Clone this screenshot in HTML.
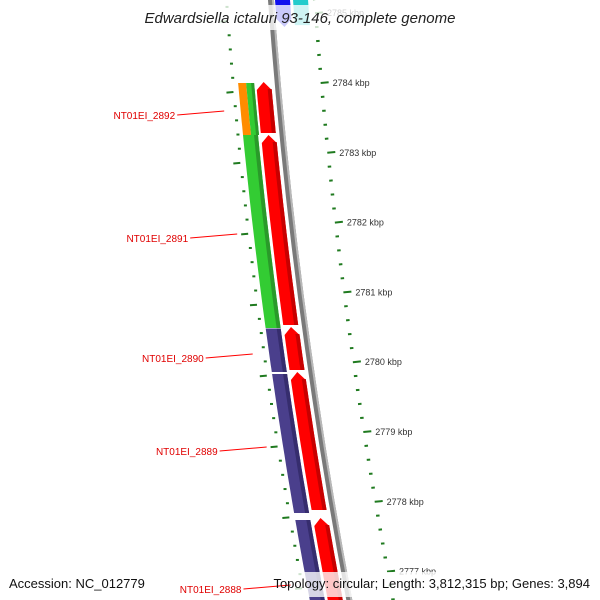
<!DOCTYPE html>
<html><head><meta charset="utf-8"><style>
html,body{margin:0;padding:0;background:#fff;width:600px;height:600px;overflow:hidden;}
svg{display:block;font-family:"Liberation Sans",sans-serif;overflow:hidden;}
</style></head><body>
<svg id="chart" width="600" height="600" viewBox="0 0 600 600" xmlns="http://www.w3.org/2000/svg">
<g id="ticks"></g>
<g id="feat"></g>
<rect x="133" y="5" width="334" height="25" fill="#fff" opacity="0.78"/>
<text x="300" y="23" text-anchor="middle" font-size="15" font-style="italic" fill="#222">Edwardsiella ictaluri 93-146, complete genome</text>
<rect x="4" y="572" width="592" height="25" fill="#fff" opacity="0.78"/>
<g id="labels"></g>
<text x="9" y="588" font-size="13" fill="#111">Accession: NC_012779</text>
<text x="590" y="588" text-anchor="end" font-size="13" fill="#111">Topology: circular; Length: 3,812,315 bp; Genes: 3,894</text>
</svg>
<script>
// ---- data ----
const majorKbp = [2785, 2784, 2783, 2782, 2781, 2780, 2779, 2778, 2777];
const tickLabels = ["2785 kbp","2784 kbp","2783 kbp","2782 kbp","2781 kbp","2780 kbp","2779 kbp","2778 kbp","2777 kbp"];
const fwdStart = [2784.071, 2783.317, 2780.586, 2779.946, 2777.869];
const fwdEnd   = [2783.346, 2780.615, 2779.974, 2777.983, 2776.700];
const innerStart = [2783.317, 2780.565, 2779.917, 2777.841];
const innerEnd   = [2780.572, 2779.946, 2777.940, 2776.700];
const innerType  = ["green", "purple", "purple", "purple"];
const splitStart = [2784.057];
const splitEnd   = [2783.317];
const geneNames = ["NT01EI_2892","NT01EI_2891","NT01EI_2890","NT01EI_2889","NT01EI_2888"];
const geneKbp   = [2783.659, 2781.909, 2780.202, 2778.879, 2776.916];
const topBlue = [2785.40, 2784.853];
const topCyan = [2785.40, 2784.880];

// ---- axis functions ----
const NS = "http://www.w3.org/2000/svg";
function X(a, y){ return a + 0.072*y + 0.0000975*y*y; }
function yOuter(k){ return 83 + (2784-k)*69.8; }
function yInner(k){ return 92 + (2784-k)*70.9; }
function yFeat(k){ return 87 + (2784-k)*70.3; }
function mk(tag, attrs, parent){ const e=document.createElementNS(NS,tag); for(const k in attrs) e.setAttribute(k,attrs[k]); parent.appendChild(e); return e; }
function band(a, w, y1, y2, tip){
  const pts=[]; const n=12;
  const t1 = tip==='up' ? y1+8 : y1, t2 = tip==='down' ? y2-8 : y2;
  for(let i=0;i<=n;i++){ const y=t1+(t2-t1)*i/n; pts.push([X(a,y),y]); }
  if(tip==='down') pts.push([X(a+w/2,y2),y2]);
  for(let i=n;i>=0;i--){ const y=t1+(t2-t1)*i/n; pts.push([X(a+w,y),y]); }
  if(tip==='up') pts.push([X(a+w/2,y1),y1]);
  return pts.map(p=>p[0].toFixed(1)+","+p[1].toFixed(1)).join(" ");
}
const ticksG=document.getElementById('ticks'), featG=document.getElementById('feat'), labG=document.getElementById('labels');

// backbone
let bb=mk('polygon',{points:band(268,6,-5,600),fill:'#7a7a7a'},featG);


let bb2=mk('polygon',{points:band(272,2,-5,600),fill:'#b8b8b8'},featG);



// ticks
for(let k=2785.4;k>=2776.6;k-=0.2){
  const kk=Math.round(k*10)/10, major=Math.abs(kk-Math.round(kk))<0.01;
  const yo=yOuter(kk), yi=yInner(kk);
  if(yo<600){
    let t=mk('line',{x1:X(313,yo)+(major?1:0),y1:yo,x2:X(313,yo)+(major?9:3.5),y2:yo+(major?-0.8:-0.3),stroke:'#1f7a1f','stroke-width':2},ticksG);
    
    
  }
  if(yi<600){
    let ti=mk('line',{x1:X(225,yi)-(major?6:0),y1:yi+(major?0.6:0),x2:X(225,yi)+(major?1:3),y2:yi,stroke:'#1f7a1f','stroke-width':2},ticksG);
    
    
  }
}
majorKbp.forEach((k,i)=>{
  const y=yOuter(k);
  let tx=mk('text',{x:X(313,y)+13,y:y+3,'font-size':9,fill:'#333'},ticksG);
  tx.textContent=tickLabels[i];
  
  
});

// top features (blue/cyan)
let bl=mk('polygon',{points:band(275,15,yFeat(topBlue[0]),yFeat(topBlue[1]),'down'),fill:'#1010ee'},featG);


let cy=mk('polygon',{points:band(293,15,yFeat(topCyan[0]),yFeat(topCyan[1])),fill:'#22cccc'},featG);



// forward (red) genes
fwdStart.forEach((s,i)=>{
  const y1=yFeat(s), y2=yFeat(fwdEnd[i]);
  let p=mk('polygon',{points:band(249.5,15,y1,y2,'up'),fill:'#ff0000'},featG);
  
  
  let s2=mk('polygon',{points:band(260.5,4,y1+7,y2),fill:'#c80000'},featG);
  
  
});
// inner track features
innerStart.forEach((s,i)=>{
  const y1=yFeat(s), y2=yFeat(innerEnd[i]);
  const c = innerType[i]==='green' ? ['#33cc33','#2a9a2a'] : ['#4a3f8c','#362d6e'];
  let p=mk('polygon',{points:band(231.5,15,y1,y2),fill:c[0]},featG);
  
  
  let s2=mk('polygon',{points:band(242.5,4,y1,y2),fill:c[1]},featG);
  
  
});
splitStart.forEach((s,i)=>{
  const y1=yFeat(s), y2=yFeat(splitEnd[i]);
  let o=mk('polygon',{points:band(231.5,8,y1,y2),fill:'#ff8c00'},featG);
  
  
  let g=mk('polygon',{points:band(239.5,8,y1,y2),fill:'#33cc33'},featG);
  
  
  let gs=mk('polygon',{points:band(244.5,3,y1,y2),fill:'#2a9a2a'},featG);
  
  
});

// labels
geneNames.forEach((n,i)=>{
  const y=yFeat(geneKbp[i]), ex=X(215,y), sx=ex-47, sy=y+4;
  let l=mk('line',{x1:sx,y1:sy,x2:ex,y2:y,stroke:'#ff0000','stroke-width':1},labG);
  
  
  let t=mk('text',{x:sx-2,y:Math.min(sy+4,597),'text-anchor':'end','font-size':10,fill:'#e00000'},labG);
  t.textContent=n;
  
  
});
</script>
</body></html>
